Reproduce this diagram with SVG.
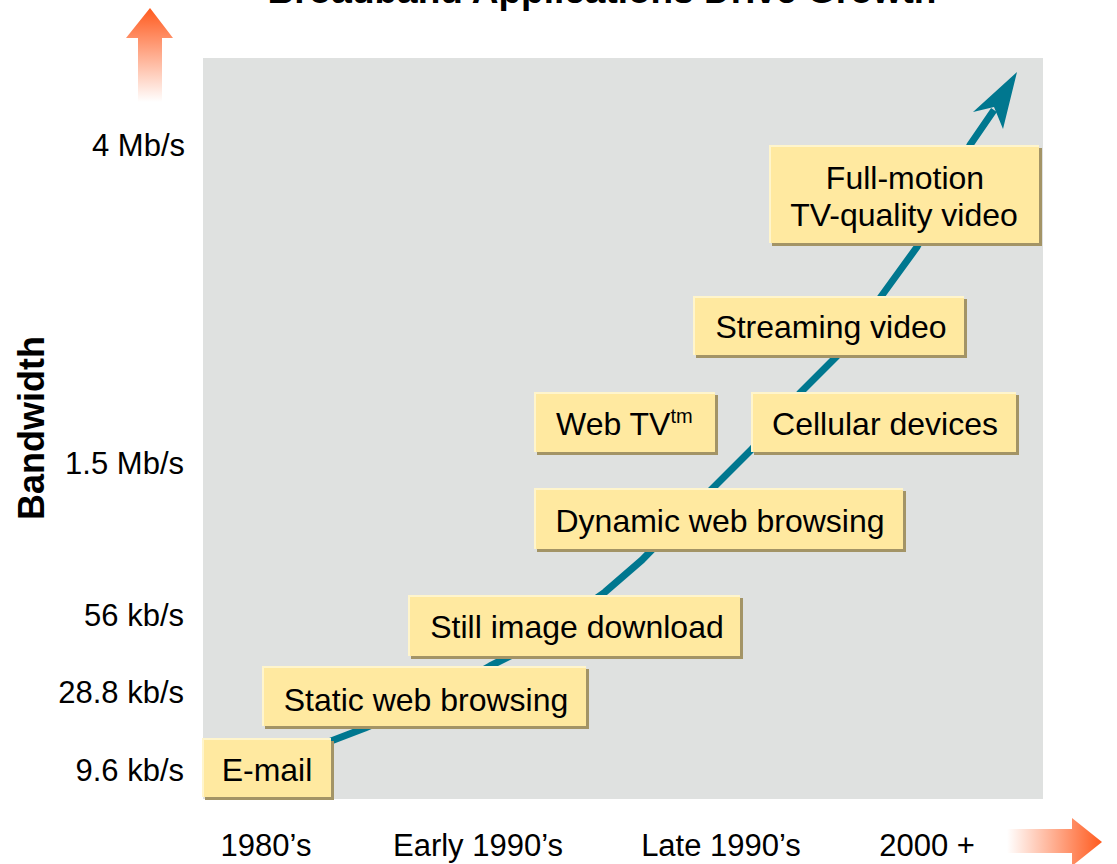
<svg xmlns="http://www.w3.org/2000/svg" width="1117" height="864" viewBox="0 0 1117 864">
<defs>
<linearGradient id="gUp" x1="0" y1="0" x2="0" y2="1">
<stop offset="0" stop-color="#FF5A1E"/>
<stop offset="1" stop-color="#FFFFFF"/>
</linearGradient>
<linearGradient id="gRight" x1="0" y1="0" x2="1" y2="0">
<stop offset="0" stop-color="#FFFFFF"/>
<stop offset="1" stop-color="#FF5A1E"/>
</linearGradient>
<style>
.shadow{fill:#A39466}
.box{fill:#FFE9A0}
.hl{fill:none;stroke:#FFF5CC;stroke-width:2}
.bt{font-family:"Liberation Sans",Arial,sans-serif;font-size:32px;fill:#000;text-anchor:middle}
.bts{font-family:"Liberation Sans",Arial,sans-serif;font-size:32px;fill:#000;text-anchor:start}
.lab{font-family:"Liberation Sans",Arial,sans-serif;font-size:31px;fill:#000}
.ttl{font-family:"Liberation Sans",Arial,sans-serif;font-size:37px;font-weight:bold;fill:#000;text-anchor:middle}
.yt{font-family:"Liberation Sans",Arial,sans-serif;font-size:36px;font-weight:bold;fill:#000;text-anchor:middle}
.ax{text-anchor:end}
.mid{text-anchor:middle}
</style>
</defs>
<rect width="1117" height="864" fill="#FFFFFF"/>
<text class="ttl" x="602" y="3">Broadband Applications Drive Growth</text>
<rect x="203" y="58" width="840" height="741" fill="#DFE1E0"/>

<g id="axis-arrows">
<polygon points="150,8 126,38 138,38 138,102 162,102 162,38 173,38" fill="url(#gUp)"/>
<polygon points="1007,829 1072,829 1072,818 1102,842 1072,866 1072,853 1007,853" fill="url(#gRight)"/>
</g>

<g id="connectors">
<polyline points="318,746 365,728 430,700 490,666 512,655 560,624 605,592 642,560 680,521 712,489 752,449 800,393 837,356 880,298 917,247 970,145 994,110" fill="none" stroke="#00778F" stroke-width="7" stroke-linejoin="round"/>
<polygon points="1017,72 973,112 994,107 1003,129" fill="#00778F"/>
</g>

<g id="y-axis">
<text class="yt" x="32" y="428" transform="rotate(-90 32 428)" dy="12">Bandwidth</text>
<text class="lab ax" x="185" y="156">4 Mb/s</text>
<text class="lab ax" x="184" y="474">1.5 Mb/s</text>
<text class="lab ax" x="184" y="626">56 kb/s</text>
<text class="lab ax" x="184" y="703">28.8 kb/s</text>
<text class="lab ax" x="184" y="781">9.6 kb/s</text>
</g>

<g id="x-axis">
<text class="lab mid" x="266" y="856">1980’s</text>
<text class="lab mid" x="478" y="856">Early 1990’s</text>
<text class="lab mid" x="721" y="856">Late 1990’s</text>
<text class="lab mid" x="927" y="856">2000 +</text>
</g>

<g id="email">
<rect class="shadow" x="205" y="741" width="129" height="59"/>
<rect class="box" x="202" y="738" width="129" height="59"/>
<polyline class="hl" points="203,797 203,739 331,739"/>
<text class="bt" x="267" y="781">E-mail</text>
</g>

<g id="static">
<rect class="shadow" x="265" y="669" width="324" height="60"/>
<rect class="box" x="262" y="666" width="324" height="60"/>
<polyline class="hl" points="263,726 263,667 586,667"/>
<text class="bt" x="426" y="711">Static web browsing</text>
</g>

<g id="still">
<rect class="shadow" x="411" y="598" width="332" height="61"/>
<rect class="box" x="408" y="595" width="332" height="61"/>
<polyline class="hl" points="409,656 409,596 740,596"/>
<text class="bt" x="577" y="638">Still image download</text>
</g>

<g id="dynamic">
<rect class="shadow" x="537" y="491" width="369" height="61"/>
<rect class="box" x="534" y="488" width="369" height="61"/>
<polyline class="hl" points="535,549 535,489 903,489"/>
<text class="bt" x="720" y="532">Dynamic web browsing</text>
</g>

<g id="webtv">
<rect class="shadow" x="537" y="395" width="181" height="60"/>
<rect class="box" x="534" y="392" width="181" height="60"/>
<polyline class="hl" points="535,452 535,393 715,393"/>
<text class="bts" x="556" y="435">Web TV<tspan font-size="20" dy="-12">tm</tspan></text>
</g>

<g id="cellular">
<rect class="shadow" x="754" y="395" width="265" height="60"/>
<rect class="box" x="751" y="392" width="265" height="60"/>
<polyline class="hl" points="752,452 752,393 1016,393"/>
<text class="bt" x="885" y="435">Cellular devices</text>
</g>

<g id="streaming">
<rect class="shadow" x="696" y="299" width="271" height="59"/>
<rect class="box" x="693" y="296" width="271" height="59"/>
<polyline class="hl" points="694,355 694,297 964,297"/>
<text class="bt" x="831" y="338">Streaming video</text>
</g>

<g id="fullmotion">
<rect class="shadow" x="772" y="148" width="270" height="98"/>
<rect class="box" x="769" y="145" width="270" height="98"/>
<polyline class="hl" points="770,243 770,146 1039,146"/>
<text class="bt" x="905" y="189">Full-motion</text>
<text class="bt" x="904" y="226">TV-quality video</text>
</g>
</svg>
